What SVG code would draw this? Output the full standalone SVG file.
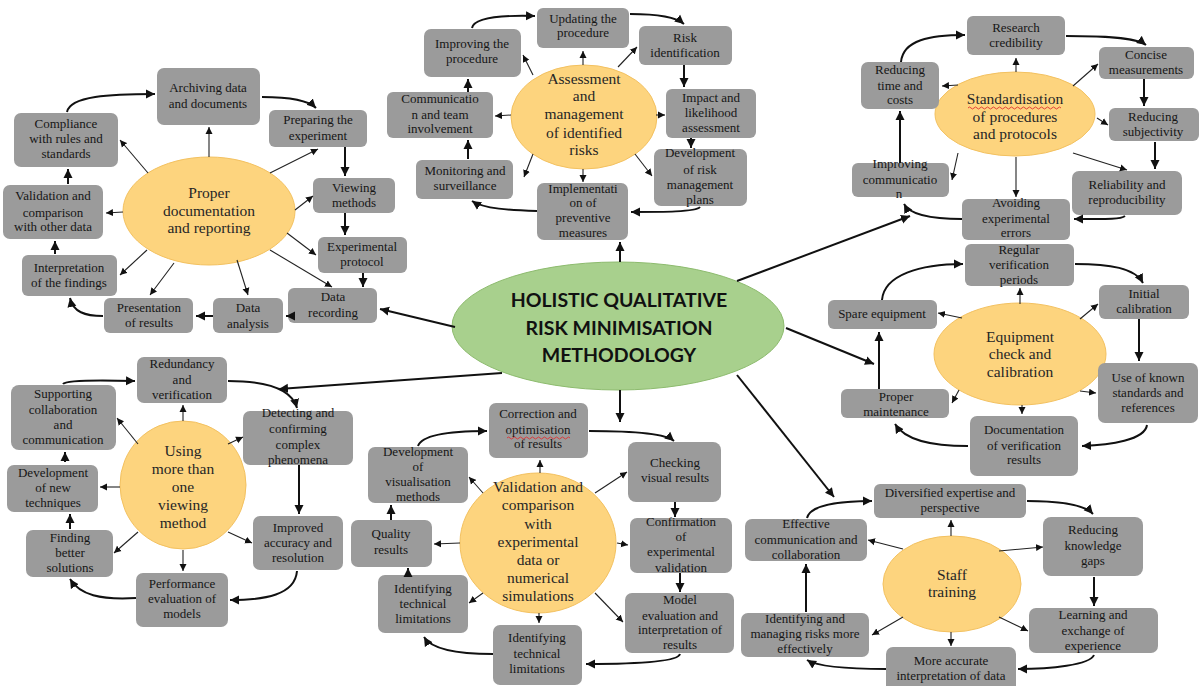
<svg xmlns="http://www.w3.org/2000/svg" width="1199" height="686" viewBox="0 0 1199 686">
<style>
.box{fill:#9b9b9b}
.t{font-family:"Liberation Serif","Times New Roman",serif;font-size:13px;fill:#161616;text-anchor:middle}
.et{font-family:"Liberation Serif","Times New Roman",serif;font-size:15.5px;fill:#262626;text-anchor:middle}
.ct{font-family:Lato,"Liberation Sans",sans-serif;font-weight:bold;font-size:19.5px;fill:#111;text-anchor:middle}
.hub{fill:#FDD47E;stroke:#F3C160;stroke-width:1}
.core{fill:#A8D08D;stroke:#8DBB6E;stroke-width:1}
.thin{fill:none;stroke:#222;stroke-width:1.1;marker-end:url(#ah)}
.cyc{fill:none;stroke:#111;stroke-width:2;marker-end:url(#ab)}
.main{fill:none;stroke:#111;stroke-width:2;marker-end:url(#ab)}
.sq{fill:none;stroke:#e03030;stroke-width:0.9}
</style>
<defs>
<marker id="ah" markerUnits="userSpaceOnUse" markerWidth="8" markerHeight="8" refX="7" refY="4" orient="auto"><path d="M0,0.5 L7,4 L0,7.5 z" fill="#111"/></marker>
<marker id="ab" markerUnits="userSpaceOnUse" markerWidth="10" markerHeight="10" refX="9" refY="5" orient="auto"><path d="M0,0.5 L9,5 L0,9.5 z" fill="#111"/></marker>
</defs>
<rect width="1199" height="686" fill="#fff"/>

<!-- Cluster 1: Proper documentation -->
<g id="doc-hub"><ellipse class="hub" cx="209" cy="211" rx="86" ry="54"/><text class="et"><tspan x="209" y="198">Proper</tspan><tspan x="209" y="216">documentation</tspan><tspan x="209" y="233">and reporting</tspan></text></g>
<g id="archiving"><rect class="box" x="157" y="68" width="103" height="57" rx="7"/><text class="t"><tspan x="208" y="92">Archiving data</tspan><tspan x="208" y="108">and documents</tspan></text></g>
<g id="preparing"><rect class="box" x="269" y="110" width="98" height="37" rx="6"/><text class="t"><tspan x="318" y="124">Preparing the</tspan><tspan x="318" y="140">experiment</tspan></text></g>
<g id="viewing"><rect class="box" x="313" y="178" width="82" height="35" rx="6"/><text class="t"><tspan x="354" y="192">Viewing</tspan><tspan x="354" y="207">methods</tspan></text></g>
<g id="protocol"><rect class="box" x="318" y="237" width="89" height="36" rx="6"/><text class="t"><tspan x="362" y="251">Experimental</tspan><tspan x="362" y="266">protocol</tspan></text></g>
<g id="recording"><rect class="box" x="288" y="288" width="89" height="35" rx="6"/><text class="t"><tspan x="333" y="301">Data</tspan><tspan x="333" y="317">recording</tspan></text></g>
<g id="analysis"><rect class="box" x="213" y="298" width="70" height="35" rx="6"/><text class="t"><tspan x="248" y="312">Data</tspan><tspan x="248" y="328">analysis</tspan></text></g>
<g id="presentation"><rect class="box" x="104" y="298" width="89" height="35" rx="6"/><text class="t"><tspan x="149" y="312">Presentation</tspan><tspan x="149" y="327">of results</tspan></text></g>
<g id="interpretation"><rect class="box" x="22" y="255" width="95" height="41" rx="6"/><text class="t"><tspan x="69" y="272">Interpretation</tspan><tspan x="69" y="287">of the findings</tspan></text></g>
<g id="validation-other"><rect class="box" x="3" y="185" width="100" height="54" rx="7"/><text class="t"><tspan x="53" y="200">Validation and</tspan><tspan x="53" y="217">comparison</tspan><tspan x="53" y="231">with other data</tspan></text></g>
<g id="compliance"><rect class="box" x="14" y="113" width="104" height="54" rx="7"/><text class="t"><tspan x="66" y="128">Compliance</tspan><tspan x="66" y="143">with rules and</tspan><tspan x="66" y="158">standards</tspan></text></g>

<!-- Cluster 2: Assessment -->
<g id="risk-hub"><ellipse class="hub" cx="584" cy="117" rx="73" ry="52"/><text class="et"><tspan x="584" y="84">Assessment</tspan><tspan x="584" y="101">and</tspan><tspan x="584" y="119">management</tspan><tspan x="584" y="138">of identified</tspan><tspan x="584" y="155">risks</tspan></text></g>
<g id="updating"><rect class="box" x="537" y="8" width="92" height="40" rx="6"/><text class="t"><tspan x="583" y="23">Updating the</tspan><tspan x="583" y="37">procedure</tspan></text></g>
<g id="risk-id"><rect class="box" x="639" y="26" width="93" height="39" rx="6"/><text class="t"><tspan x="685" y="42">Risk</tspan><tspan x="685" y="57">identification</tspan></text></g>
<g id="impact"><rect class="box" x="666" y="89" width="90" height="49" rx="6"/><text class="t"><tspan x="711" y="102">Impact and</tspan><tspan x="711" y="117">likelihood</tspan><tspan x="711" y="132">assessment</tspan></text></g>
<g id="dev-plans"><rect class="box" x="654" y="149" width="93" height="57" rx="7"/><text class="t"><tspan x="700" y="157">Development</tspan><tspan x="700" y="174">of risk</tspan><tspan x="700" y="189">management</tspan><tspan x="700" y="204">plans</tspan></text></g>
<g id="implementation"><rect class="box" x="537" y="183" width="91" height="57" rx="7"/><text class="t"><tspan x="583" y="193">Implementati</tspan><tspan x="583" y="207">on of</tspan><tspan x="583" y="222">preventive</tspan><tspan x="583" y="237">measures</tspan></text></g>
<g id="monitoring"><rect class="box" x="416" y="160" width="97" height="39" rx="6"/><text class="t"><tspan x="465" y="175">Monitoring and</tspan><tspan x="465" y="190">surveillance</tspan></text></g>
<g id="communication"><rect class="box" x="387" y="92" width="106" height="46" rx="6"/><text class="t"><tspan x="440" y="103">Communicatio</tspan><tspan x="440" y="119">n and team</tspan><tspan x="440" y="133">involvement</tspan></text></g>
<g id="improving-proc"><rect class="box" x="424" y="29" width="97" height="48" rx="7"/><text class="t"><tspan x="472" y="48">Improving the</tspan><tspan x="472" y="63">procedure</tspan></text></g>

<!-- Cluster 3: Standardisation -->
<g id="std-hub"><ellipse class="hub" cx="1015" cy="114" rx="80" ry="42"/><text class="et"><tspan x="1015" y="104">Standardisation</tspan><tspan x="1015" y="122">of procedures</tspan><tspan x="1015" y="139">and protocols</tspan></text><path class="sq" d="M968,108 q1.5,-2 3,0 t3,0 t3,0 t3,0 t3,0 t3,0 t3,0 t3,0 t3,0 t3,0 t3,0 t3,0 t3,0 t3,0 t3,0 t3,0 t3,0 t3,0 t3,0 t3,0 t3,0 t3,0 t3,0 t3,0 t3,0 t3,0 t3,0 t3,0 t3,0 t3,0 t3,0"/></g>
<g id="credibility"><rect class="box" x="967" y="16" width="98" height="39" rx="6"/><text class="t"><tspan x="1016" y="32">Research</tspan><tspan x="1016" y="47">credibility</tspan></text></g>
<g id="concise"><rect class="box" x="1099" y="47" width="95" height="32" rx="6"/><text class="t"><tspan x="1146" y="59">Concise</tspan><tspan x="1146" y="74">measurements</tspan></text></g>
<g id="subjectivity"><rect class="box" x="1109" y="108" width="90" height="33" rx="6"/><text class="t"><tspan x="1153" y="121">Reducing</tspan><tspan x="1153" y="136">subjectivity</tspan></text></g>
<g id="reliability"><rect class="box" x="1072" y="171" width="110" height="44" rx="7"/><text class="t"><tspan x="1127" y="189">Reliability and</tspan><tspan x="1127" y="204">reproducibility</tspan></text></g>
<g id="avoiding"><rect class="box" x="962" y="199" width="108" height="41" rx="6"/><text class="t"><tspan x="1016" y="207">Avoiding</tspan><tspan x="1016" y="223">experimental</tspan><tspan x="1016" y="237">errors</tspan></text></g>
<g id="improving-comm"><rect class="box" x="852" y="163" width="97" height="34" rx="6"/><text class="t"><tspan x="900" y="168">Improving</tspan><tspan x="900" y="184">communicatio</tspan><tspan x="899" y="198">n</tspan></text></g>
<g id="time-costs"><rect class="box" x="861" y="62" width="78" height="47" rx="7"/><text class="t"><tspan x="900" y="74">Reducing</tspan><tspan x="900" y="90">time and</tspan><tspan x="900" y="104">costs</tspan></text></g>

<!-- Cluster 4: Equipment -->
<g id="equip-hub"><ellipse class="hub" cx="1020" cy="354" rx="86" ry="51"/><text class="et"><tspan x="1020" y="342">Equipment</tspan><tspan x="1020" y="359">check and</tspan><tspan x="1020" y="377">calibration</tspan></text></g>
<g id="regular"><rect class="box" x="965" y="244" width="109" height="42" rx="6"/><text class="t"><tspan x="1019" y="254">Regular</tspan><tspan x="1019" y="269">verification</tspan><tspan x="1019" y="284">periods</tspan></text></g>
<g id="initial"><rect class="box" x="1099" y="285" width="90" height="34" rx="6"/><text class="t"><tspan x="1144" y="298">Initial</tspan><tspan x="1144" y="313">calibration</tspan></text></g>
<g id="known"><rect class="box" x="1098" y="363" width="100" height="60" rx="7"/><text class="t"><tspan x="1148" y="382">Use of known</tspan><tspan x="1148" y="397">standards and</tspan><tspan x="1148" y="412">references</tspan></text></g>
<g id="doc-verif"><rect class="box" x="970" y="416" width="108" height="60" rx="7"/><text class="t"><tspan x="1024" y="434">Documentation</tspan><tspan x="1024" y="450">of verification</tspan><tspan x="1024" y="464">results</tspan></text></g>
<g id="maintenance"><rect class="box" x="841" y="389" width="108" height="29" rx="6"/><text class="t"><tspan x="896" y="401">Proper</tspan><tspan x="896" y="416">maintenance</tspan></text></g>
<g id="spare"><rect class="box" x="828" y="300" width="109" height="29" rx="6"/><text class="t"><tspan x="882" y="318">Spare equipment</tspan></text></g>

<!-- Cluster 5: Viewing method -->
<g id="view-hub"><ellipse class="hub" cx="183" cy="485" rx="63" ry="64"/><text class="et"><tspan x="183" y="456">Using</tspan><tspan x="183" y="474">more than</tspan><tspan x="183" y="492">one</tspan><tspan x="183" y="510">viewing</tspan><tspan x="183" y="528">method</tspan></text></g>
<g id="redundancy"><rect class="box" x="137" y="357" width="90" height="46" rx="7"/><text class="t"><tspan x="182" y="368">Redundancy</tspan><tspan x="182" y="384">and</tspan><tspan x="182" y="399">verification</tspan></text></g>
<g id="detecting"><rect class="box" x="243" y="411" width="110" height="54" rx="7"/><text class="t"><tspan x="298" y="417">Detecting and</tspan><tspan x="298" y="433">confirming</tspan><tspan x="298" y="449">complex</tspan><tspan x="298" y="464">phenomena</tspan></text></g>
<g id="improved"><rect class="box" x="253" y="516" width="90" height="54" rx="7"/><text class="t"><tspan x="298" y="532">Improved</tspan><tspan x="298" y="547">accuracy and</tspan><tspan x="298" y="562">resolution</tspan></text></g>
<g id="performance"><rect class="box" x="136" y="573" width="92" height="54" rx="7"/><text class="t"><tspan x="182" y="588">Performance</tspan><tspan x="182" y="603">evaluation of</tspan><tspan x="182" y="618">models</tspan></text></g>
<g id="finding"><rect class="box" x="26" y="530" width="87" height="47" rx="7"/><text class="t"><tspan x="70" y="542">Finding</tspan><tspan x="70" y="557">better</tspan><tspan x="70" y="572">solutions</tspan></text></g>
<g id="new-tech"><rect class="box" x="7" y="465" width="91" height="47" rx="7"/><text class="t"><tspan x="53" y="477">Development</tspan><tspan x="53" y="492">of new</tspan><tspan x="53" y="507">techniques</tspan></text></g>
<g id="supporting"><rect class="box" x="11" y="385" width="105" height="65" rx="8"/><text class="t"><tspan x="63" y="398">Supporting</tspan><tspan x="63" y="414">collaboration</tspan><tspan x="63" y="429">and</tspan><tspan x="63" y="444">communication</tspan></text></g>

<!-- Cluster 6: Validation -->
<g id="valid-hub"><ellipse class="hub" cx="538" cy="543" rx="78" ry="70"/><text class="et"><tspan x="538" y="492">Validation and</tspan><tspan x="538" y="510">comparison</tspan><tspan x="538" y="529">with</tspan><tspan x="538" y="547">experimental</tspan><tspan x="538" y="565">data or</tspan><tspan x="538" y="583">numerical</tspan><tspan x="538" y="601">simulations</tspan></text></g>
<g id="correction"><rect class="box" x="489" y="403" width="99" height="55" rx="7"/><text class="t"><tspan x="538" y="418">Correction and</tspan><tspan x="538" y="434">optimisation</tspan><tspan x="538" y="448">of results</tspan></text><path class="sq" d="M507,438 q1.5,-2 3,0 t3,0 t3,0 t3,0 t3,0 t3,0 t3,0 t3,0 t3,0 t3,0 t3,0 t3,0 t3,0 t3,0 t3,0 t3,0 t3,0 t3,0 t3,0 t3,0 t3,0"/></g>
<g id="checking"><rect class="box" x="628" y="442" width="93" height="60" rx="8"/><text class="t"><tspan x="675" y="467">Checking</tspan><tspan x="675" y="482">visual results</tspan></text></g>
<g id="confirmation"><rect class="box" x="630" y="518" width="102" height="55" rx="7"/><text class="t"><tspan x="681" y="526">Confirmation</tspan><tspan x="681" y="541">of</tspan><tspan x="681" y="556">experimental</tspan><tspan x="681" y="572">validation</tspan></text></g>
<g id="model-eval"><rect class="box" x="625" y="593" width="109" height="60" rx="7"/><text class="t"><tspan x="680" y="604">Model</tspan><tspan x="680" y="620">evaluation and</tspan><tspan x="680" y="634">interpretation of</tspan><tspan x="680" y="649">results</tspan></text></g>
<g id="limits-bottom"><rect class="box" x="493" y="625" width="89" height="60" rx="7"/><text class="t"><tspan x="537" y="642">Identifying</tspan><tspan x="537" y="658">technical</tspan><tspan x="537" y="673">limitations</tspan></text></g>
<g id="limits-left"><rect class="box" x="378" y="575" width="90" height="58" rx="7"/><text class="t"><tspan x="423" y="593">Identifying</tspan><tspan x="423" y="608">technical</tspan><tspan x="423" y="623">limitations</tspan></text></g>
<g id="quality"><rect class="box" x="351" y="520" width="81" height="47" rx="7"/><text class="t"><tspan x="391" y="538">Quality</tspan><tspan x="391" y="554">results</tspan></text></g>
<g id="visualisation"><rect class="box" x="368" y="447" width="100" height="56" rx="7"/><text class="t"><tspan x="418" y="456">Development</tspan><tspan x="418" y="471">of</tspan><tspan x="418" y="486">visualisation</tspan><tspan x="418" y="501">methods</tspan></text></g>

<!-- Cluster 7: Staff training -->
<g id="staff-hub"><ellipse class="hub" cx="952" cy="584" rx="69" ry="48"/><text class="et"><tspan x="952" y="580">Staff</tspan><tspan x="952" y="597">training</tspan></text></g>
<g id="diversified"><rect class="box" x="874" y="484" width="152" height="34" rx="6"/><text class="t"><tspan x="950" y="497">Diversified expertise and</tspan><tspan x="950" y="512">perspective</tspan></text></g>
<g id="knowledge"><rect class="box" x="1043" y="517" width="100" height="59" rx="8"/><text class="t"><tspan x="1093" y="534">Reducing</tspan><tspan x="1093" y="550">knowledge</tspan><tspan x="1093" y="565">gaps</tspan></text></g>
<g id="learning"><rect class="box" x="1029" y="608" width="129" height="45" rx="7"/><text class="t"><tspan x="1093" y="619">Learning and</tspan><tspan x="1093" y="635">exchange of</tspan><tspan x="1093" y="650">experience</tspan></text></g>
<g id="accurate"><rect class="box" x="886" y="647" width="130" height="45" rx="7"/><text class="t"><tspan x="951" y="665">More accurate</tspan><tspan x="951" y="680">interpretation of data</tspan></text></g>
<g id="managing"><rect class="box" x="741" y="613" width="128" height="44" rx="7"/><text class="t"><tspan x="805" y="623">Identifying and</tspan><tspan x="805" y="638">managing risks more</tspan><tspan x="805" y="653">effectively</tspan></text></g>
<g id="effective"><rect class="box" x="745" y="519" width="122" height="42" rx="7"/><text class="t"><tspan x="806" y="528">Effective</tspan><tspan x="806" y="544">communication and</tspan><tspan x="806" y="559">collaboration</tspan></text></g>

<!-- Central node -->
<g id="core"><ellipse class="core" cx="618" cy="326" rx="166" ry="64"/><text class="ct"><tspan x="619" y="307">HOLISTIC QUALITATIVE</tspan><tspan x="619" y="335">RISK MINIMISATION</tspan><tspan x="619" y="362">METHODOLOGY</tspan></text></g>

<g id="connectors">
<!-- main -->
<path class="main" d="M455,327 L380,309"/>
<path class="main" d="M502,373 L279,389"/>
<path class="main" d="M620,262 L620,242"/>
<path class="main" d="M737,281 L910,216"/>
<path class="main" d="M786,328 L874,364"/>
<path class="main" d="M737,375 L834,497"/>
<path class="main" d="M620,390 L620,422"/>

<!-- cluster 1 spokes -->
<path class="thin" d="M209,157 L209,127"/>
<path class="thin" d="M270,173 L318,149"/>
<path class="thin" d="M295,210 L313,196"/>
<path class="thin" d="M287,233 L316,255"/>
<path class="thin" d="M270,250 L332,287"/>
<path class="thin" d="M237,260 L248,295"/>
<path class="thin" d="M174,263 L150,295"/>
<path class="thin" d="M147,250 L120,275"/>
<path class="thin" d="M123,212 L106,213"/>
<path class="thin" d="M148,173 L120,140"/>
<!-- cluster 1 cycle -->
<path class="cyc" d="M67,112 C70,96 110,94 155,94"/>
<path class="cyc" d="M262,97 C290,97 308,100 316,108"/>
<path class="cyc" d="M345,147 L345,176"/>
<path class="cyc" d="M345,213 L345,235"/>
<path class="cyc" d="M363,273 L363,287"/>
<path class="cyc" d="M288,316 L286,316"/>
<path class="cyc" d="M213,316 L196,316"/>
<path class="cyc" d="M103,316 C85,316 73,312 70,298"/>
<path class="cyc" d="M55,254 L55,241"/>
<path class="cyc" d="M68,184 L68,169"/>

<!-- cluster 2 spokes -->
<path class="thin" d="M583,65 L583,51"/>
<path class="thin" d="M618,67 L637,47"/>
<path class="thin" d="M656,115 L665,115"/>
<path class="thin" d="M635,154 L652,176"/>
<path class="thin" d="M583,169 L583,182"/>
<path class="thin" d="M533,154 L524,177"/>
<path class="thin" d="M511,115 L495,116"/>
<path class="thin" d="M533,75 L523,55"/>
<!-- cluster 2 cycle -->
<path class="cyc" d="M472,28 C474,18 500,15 535,16"/>
<path class="cyc" d="M630,14 C660,14 676,17 684,24"/>
<path class="cyc" d="M684,65 L684,87"/>
<path class="cyc" d="M691,138 L691,148"/>
<path class="cyc" d="M700,207 C696,212 662,212 631,212"/>
<path class="cyc" d="M537,211 C510,210 484,209 472,201"/>
<path class="cyc" d="M468,159 L468,140"/>
<path class="cyc" d="M468,92 L468,79"/>

<!-- cluster 3 spokes -->
<path class="thin" d="M1016,72 L1016,58"/>
<path class="thin" d="M1073,86 L1098,64"/>
<path class="thin" d="M1097,118 L1108,125"/>
<path class="thin" d="M1073,153 L1127,170"/>
<path class="thin" d="M1016,157 L1016,197"/>
<path class="thin" d="M958,153 L952,180"/>
<path class="thin" d="M958,85 L942,86"/>
<!-- cluster 3 cycle -->
<path class="cyc" d="M901,62 C903,40 930,35 965,35"/>
<path class="cyc" d="M1066,36 C1100,36 1136,37 1146,45"/>
<path class="cyc" d="M1144,79 L1144,106"/>
<path class="cyc" d="M1155,142 L1155,169"/>
<path class="cyc" d="M1125,216 C1120,220 1100,219 1074,219"/>
<path class="cyc" d="M962,219 C930,219 910,215 904,204"/>
<path class="cyc" d="M900,163 L900,111"/>

<!-- cluster 4 spokes -->
<path class="thin" d="M1020,304 L1020,288"/>
<path class="thin" d="M1080,319 L1098,304"/>
<path class="thin" d="M1080,391 L1096,393"/>
<path class="thin" d="M1022,405 L1022,414"/>
<path class="thin" d="M959,390 L952,403"/>
<path class="thin" d="M962,318 L938,313"/>
<!-- cluster 4 cycle -->
<path class="cyc" d="M882,300 C884,275 920,264 963,264"/>
<path class="cyc" d="M1075,264 C1110,264 1135,268 1143,283"/>
<path class="cyc" d="M1139,319 L1139,361"/>
<path class="cyc" d="M1147,425 C1145,440 1110,445 1082,446"/>
<path class="cyc" d="M968,446 C930,446 905,440 895,424"/>
<path class="cyc" d="M879,389 L879,332"/>

<!-- cluster 5 spokes -->
<path class="thin" d="M183,421 L183,405"/>
<path class="thin" d="M228,444 L243,437"/>
<path class="thin" d="M228,532 L252,543"/>
<path class="thin" d="M183,550 L183,571"/>
<path class="thin" d="M138,532 L114,553"/>
<path class="thin" d="M120,487 L100,487"/>
<path class="thin" d="M138,444 L117,418"/>
<!-- cluster 5 cycle -->
<path class="cyc" d="M63,384 C66,380 100,380 135,381"/>
<path class="cyc" d="M228,381 C270,381 292,390 297,408"/>
<path class="cyc" d="M299,465 L299,514"/>
<path class="cyc" d="M297,571 C295,595 265,600 230,600"/>
<path class="cyc" d="M136,598 C100,600 80,595 70,579"/>
<path class="cyc" d="M70,529 L70,514"/>
<path class="cyc" d="M65,462 L65,452"/>

<!-- cluster 6 spokes -->
<path class="thin" d="M540,473 L540,460"/>
<path class="thin" d="M595,493 L627,472"/>
<path class="thin" d="M617,543 L628,545"/>
<path class="thin" d="M595,593 L623,622"/>
<path class="thin" d="M539,613 L539,623"/>
<path class="thin" d="M483,593 L469,603"/>
<path class="thin" d="M460,543 L434,544"/>
<path class="thin" d="M483,493 L469,477"/>
<!-- cluster 6 cycle -->
<path class="cyc" d="M418,446 C422,435 450,431 487,431"/>
<path class="cyc" d="M589,431 C630,431 665,433 674,441"/>
<path class="cyc" d="M675,502 L675,517"/>
<path class="cyc" d="M680,573 L680,592"/>
<path class="cyc" d="M680,654 C678,662 630,664 586,664"/>
<path class="cyc" d="M493,654 C460,654 432,650 424,637"/>
<path class="cyc" d="M408,575 L408,568"/>
<path class="cyc" d="M391,520 L391,505"/>

<!-- cluster 7 spokes -->
<path class="thin" d="M951,536 L951,520"/>
<path class="thin" d="M999,551 L1043,547"/>
<path class="thin" d="M999,617 L1028,631"/>
<path class="thin" d="M951,632 L951,646"/>
<path class="thin" d="M903,617 L872,635"/>
<path class="thin" d="M903,549 L868,540"/>
<!-- cluster 7 cycle -->
<path class="cyc" d="M807,518 C810,505 840,501 872,501"/>
<path class="cyc" d="M1027,501 C1060,501 1085,505 1093,514"/>
<path class="cyc" d="M1094,577 L1094,606"/>
<path class="cyc" d="M1094,655 C1090,665 1050,669 1018,669"/>
<path class="cyc" d="M886,669 C840,669 815,665 807,660"/>
<path class="cyc" d="M806,612 L806,564"/>
</g>
</svg>
